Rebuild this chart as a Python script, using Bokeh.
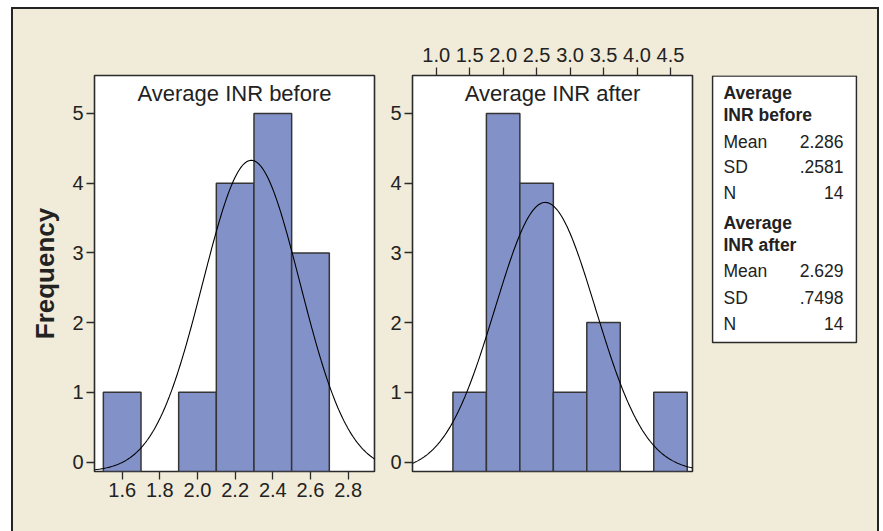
import numpy as np
from bokeh.plotting import figure
from bokeh.models import Range1d, FixedTicker, PrintfTickFormatter, Label, ColumnDataSource
from bokeh.layouts import row
from bokeh.embed import file_html
from bokeh.resources import INLINE
from bokeh.core.properties import value

# ---------------- data ----------------
before_edges = [1.5, 1.7, 1.9, 2.1, 2.3, 2.5, 2.7]
before_counts = [1, 0, 1, 4, 5, 3]
after_edges = [1.25, 1.75, 2.25, 2.75, 3.25, 3.75, 4.25, 4.75]
after_counts = [1, 5, 4, 1, 2, 0, 1]

before_ticks = [1.6, 1.8, 2.0, 2.2, 2.4, 2.6, 2.8]
after_ticks = [1.0, 1.5, 2.0, 2.5, 3.0, 3.5, 4.0, 4.5]
freq_ticks = [0, 1, 2, 3, 4, 5]

before_mean, before_sd, before_n = 2.286, 0.2581, 14
after_mean, after_sd, after_n = 2.629, 0.7498, 14

stat_names = ["Mean", "SD", "N"]
before_stats = ["2.286", ".2581", "14"]
after_stats = ["2.629", ".7498", "14"]
titles = ["Average INR before", "Average INR after"]
headers = [["Average", "INR before"], ["Average", "INR after"]]

# ---------------- style ----------------
BEIGE = "#f1ebd9"
BAR = "#8291c8"
DARK = "#2b2b2b"
TXT = "#222222"
FONT = "Liberation Sans"
Y_START, Y_END = -0.136, 5.545
H = 524
TOP = 66
FRAME_H = 396
BOTTOM = H - TOP - FRAME_H
PX_PER_UNIT = FRAME_H / (Y_END - Y_START)


def hist_fig(width, x_start, x_end, left, right, x_loc, ticks, edges, counts,
             mean, sd, n, title):
    p = figure(width=width, height=H, x_range=Range1d(x_start, x_end),
               y_range=Range1d(Y_START, Y_END), output_backend="svg",
               toolbar_location=None, x_axis_location=x_loc,
               min_border_left=left, min_border_right=right,
               min_border_top=TOP, min_border_bottom=BOTTOM)
    p.background_fill_color = "white"
    p.border_fill_color = BEIGE
    p.outline_line_color = DARK
    p.outline_line_width = 1.6
    p.grid.visible = False

    l = [edges[i] for i in range(len(counts)) if counts[i] > 0]
    r = [edges[i + 1] for i in range(len(counts)) if counts[i] > 0]
    t = [c for c in counts if c > 0]
    src = ColumnDataSource(dict(left=l, right=r, top=t, bottom=[Y_START] * len(t)))
    p.quad(left="left", right="right", top="top", bottom="bottom", source=src,
           fill_color=BAR, line_color="#353535", line_width=1.5)

    # fitted normal curve (N * bin width * pdf), drawn from the axis floor
    bw = edges[1] - edges[0]
    xs = np.linspace(x_start, x_end, 300)
    f = n * bw / (sd * np.sqrt(2 * np.pi)) * np.exp(-0.5 * ((xs - mean) / sd) ** 2)
    fmax = n * bw / (sd * np.sqrt(2 * np.pi))
    ys = Y_START + f * (fmax - Y_START) / fmax
    p.line(xs, ys, line_color="black", line_width=1.1)

    for ax in [p.xaxis[0], p.yaxis[0]]:
        ax.axis_line_color = None
        ax.major_tick_line_color = DARK
        ax.major_tick_line_width = 1.3
        ax.major_tick_out = 8
        ax.major_tick_in = 0
        ax.minor_tick_line_color = None
        ax.major_label_text_font = FONT
        ax.major_label_text_font_size = "20px"
        ax.major_label_text_color = TXT
    p.yaxis.ticker = FixedTicker(ticks=freq_ticks)
    p.yaxis.major_label_standoff = 3
    p.xaxis.ticker = FixedTicker(ticks=ticks)
    p.xaxis.formatter = PrintfTickFormatter(format="%.1f")
    p.xaxis.major_label_standoff = 3

    p.add_layout(Label(x=(x_start + x_end) / 2, y=Y_END - 18 / PX_PER_UNIT, text=title,
                       text_align="center", text_baseline="middle",
                       text_font=FONT, text_font_size="22px", text_color=TXT))
    return p


pA = hist_fig(372, 1.453, 2.94, 81, 11, "below", before_ticks, before_edges,
              before_counts, before_mean, before_sd, before_n, titles[0])
pA.yaxis.axis_label = "Frequency"
pA.yaxis.axis_label_text_font = FONT
pA.yaxis.axis_label_text_font_size = "26px"
pA.yaxis.axis_label_text_font_style = "bold"
pA.yaxis.axis_label_text_color = TXT
pA.yaxis.axis_label_standoff = 9

pB = hist_fig(315, 0.646, 4.829, 27, 8, "above", after_ticks, after_edges,
              after_counts, after_mean, after_sd, after_n, titles[1])
pB.xaxis.major_label_standoff = 6

# ---------------- stats box ----------------
# coordinates in pixels below the top of the plotting frame
pC = figure(width=177, height=H, x_range=Range1d(0, 146), y_range=Range1d(FRAME_H, 0),
            output_backend="svg", toolbar_location=None,
            min_border_left=11, min_border_right=20, min_border_top=TOP,
            min_border_bottom=BOTTOM)
pC.axis.visible = False
pC.grid.visible = False
pC.background_fill_color = BEIGE
pC.border_fill_color = BEIGE
pC.outline_line_color = None

pC.quad(left=[1], right=[145], top=[0.5], bottom=[267], fill_color="white",
        line_color=DARK, line_width=1.6)

row_y = [17, 39, 66, 91, 117, 147, 169, 195, 222, 248]
hdr_txt, hdr_y, lab_txt, lab_y, val_txt = [], [], [], [], []
k = 0
for hdr, vals in zip(headers, [before_stats, after_stats]):
    for h in hdr:
        hdr_txt.append(h); hdr_y.append(row_y[k]); k += 1
    for nm, v in zip(stat_names, vals):
        lab_txt.append(nm); val_txt.append(v); lab_y.append(row_y[k]); k += 1

pC.text(x=[12] * len(hdr_txt), y=hdr_y, text=hdr_txt, text_font=value(FONT),
        text_font_size="17.5px", text_font_style="bold", text_color=TXT,
        text_baseline="middle", text_align="left")
pC.text(x=[12] * len(lab_txt), y=lab_y, text=lab_txt, text_font=value(FONT),
        text_font_size="17.5px", text_color=TXT, text_baseline="middle", text_align="left")
pC.text(x=[132] * len(val_txt), y=lab_y, text=val_txt, text_font=value(FONT),
        text_font_size="17.5px", text_color=TXT, text_baseline="middle", text_align="right")

layout = row(pA, pB, pC, margin=(7, 0, 0, 11),
             styles={"border": "2px solid #242424", "background-color": BEIGE})

open("out.html", "w").write(file_html(layout, INLINE))
